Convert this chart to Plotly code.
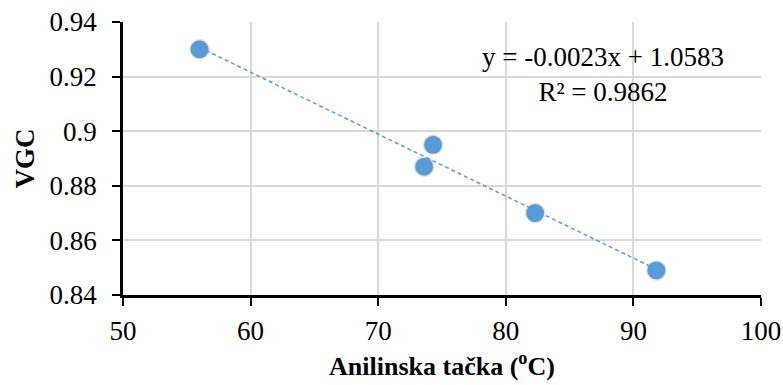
import numpy as np
import plotly.graph_objects as go

# Data
aniline_point = [56.0, 73.6, 74.3, 82.3, 91.8]   # Anilinska tačka (°C)
vgc = [0.930, 0.887, 0.895, 0.870, 0.849]         # VGC

x_ticks = [50, 60, 70, 80, 90, 100]
y_ticks = [0.84, 0.86, 0.88, 0.90, 0.92, 0.94]
y_tick_labels = ["0.84", "0.86", "0.88", "0.9", "0.92", "0.94"]

eq_text = "y = -0.0023x + 1.0583<br>R² = 0.9862"

# Linear trendline fitted to the data
slope, intercept = np.polyfit(aniline_point, vgc, 1)
trend_x = [min(aniline_point), max(aniline_point)]
trend_y = [slope * v + intercept for v in trend_x]

blue = "#5B9BD5"
serif = "Liberation Serif"
tick_font = dict(family=serif, size=27, color="black")

fig = go.Figure()

# soft shadow under markers
fig.add_trace(go.Scatter(
    x=aniline_point, y=vgc, mode="markers",
    marker=dict(size=21, color="rgba(0,0,0,0.10)", line=dict(width=0)),
    hoverinfo="skip", showlegend=False,
))
fig.add_trace(go.Scatter(
    x=trend_x, y=trend_y, mode="lines",
    line=dict(color=blue, width=1.5, dash="4px,3px"),
    hoverinfo="skip", showlegend=False,
))
fig.add_trace(go.Scatter(
    x=aniline_point, y=vgc, mode="markers",
    marker=dict(size=18, color=blue, line=dict(width=0)),
    showlegend=False,
))

fig.update_layout(
    width=783, height=385,
    margin=dict(l=123, r=22, t=22, b=90),
    paper_bgcolor="white", plot_bgcolor="white",
    font=dict(family=serif, size=27, color="black"),
    xaxis=dict(
        range=[50, 100], tickvals=x_ticks, ticktext=[str(v) for v in x_ticks],
        tickfont=tick_font, automargin=False, ticklabelstandoff=2,
        showgrid=True, gridcolor="#D9D9D9", gridwidth=1.5,
        showline=True, linecolor="black", linewidth=2.5,
        ticks="outside", ticklen=8, tickwidth=2, tickcolor="black",
        zeroline=False,
        title=dict(text="<b>Anilinska tačka (<sup>o</sup>C)</b>",
                   font=dict(family=serif, size=26, color="black"), standoff=12),
    ),
    yaxis=dict(
        range=[0.84, 0.94], tickvals=y_ticks, ticktext=y_tick_labels,
        tickfont=tick_font, automargin=False, ticklabelstandoff=10,
        showgrid=True, gridcolor="#D9D9D9", gridwidth=1.5,
        showline=True, linecolor="black", linewidth=2.5,
        ticks="outside", ticklen=8, tickwidth=2, tickcolor="black",
        zeroline=False,
        title=dict(text="<b>VGC</b>",
                   font=dict(family=serif, size=27, color="black"), standoff=8),
    ),
    annotations=[dict(
        text=eq_text, xref="paper", yref="paper",
        x=0.752, y=0.808, xanchor="center", yanchor="middle",
        showarrow=False, align="center",
        font=dict(family=serif, size=27, color="black"),
    )],
)

# remove the page's default body margin so the figure sits at (0, 0),
# and make sure tick labels use the serif face
post_js = (
    "document.body.style.margin='0';"
    "document.querySelectorAll('.xtick text, .ytick text').forEach("
    "function(t){t.style.fontFamily='\"Liberation Serif\", serif';});"
)

fig.write_html("out.html", post_script=post_js,
               config={"displayModeBar": False})
